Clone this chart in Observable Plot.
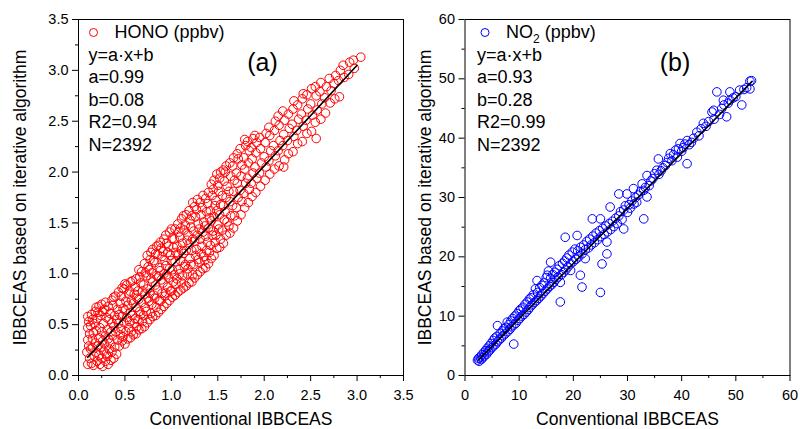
<!DOCTYPE html>
<html><head><meta charset="utf-8">
<script src="https://cdn.jsdelivr.net/npm/d3@7"></script>
<script src="https://cdn.jsdelivr.net/npm/@observablehq/plot@0.6"></script>
<style>
body{margin:0;background:#fff;}
#wrap{position:relative;width:800px;height:429px;overflow:hidden;font-family:"Liberation Sans",Arial,sans-serif;}
</style></head><body><div id="wrap"></div>
<script>
// ---------- data ----------
const honoPoints = [
 [0.10,0.11],[0.12,0.17],[0.09,0.23],[0.11,0.29],[0.10,0.35],[0.12,0.41],[0.10,0.47],[0.11,0.53],[0.10,0.58],
 [0.14,0.12],[0.13,0.26],[0.15,0.36],[0.13,0.49],[0.14,0.60],
 [0.16,0.10],[0.17,0.19],[0.15,0.27],[0.18,0.32],[0.16,0.42],[0.17,0.51],[0.15,0.55],[0.18,0.63],
 [0.20,0.14],[0.19,0.23],[0.21,0.29],[0.19,0.44],[0.20,0.56],[0.21,0.62],[0.19,0.67],
 [0.23,0.11],[0.22,0.20],[0.24,0.28],[0.22,0.37],[0.23,0.47],[0.24,0.59],[0.22,0.68],
 [0.26,0.09],[0.25,0.17],[0.27,0.24],[0.26,0.34],[0.25,0.43],[0.27,0.51],[0.26,0.63],[0.25,0.70],
 [0.29,0.14],[0.30,0.21],[0.28,0.31],[0.29,0.39],[0.30,0.57],[0.28,0.65],[0.29,0.72],
 [0.32,0.11],[0.31,0.19],[0.33,0.26],[0.32,0.36],[0.31,0.45],[0.33,0.55],[0.32,0.68],
 [0.35,0.15],[0.36,0.23],[0.34,0.32],[0.35,0.43],[0.36,0.52],[0.34,0.61],[0.36,0.74],
 [0.38,0.17],[0.39,0.28],[0.37,0.39],[0.38,0.48],[0.39,0.59],[0.37,0.69],[0.38,0.77],
 [0.41,0.21],[0.42,0.35],[0.40,0.43],[0.41,0.55],[0.42,0.65],[0.40,0.78],
 [0.44,0.29],[0.45,0.40],[0.43,0.51],[0.44,0.60],[0.45,0.71],[0.43,0.82],
 [0.47,0.34],[0.48,0.38],[0.46,0.46],[0.47,0.58],[0.48,0.66],[0.46,0.78],[0.47,0.86],
 [0.50,0.31],[0.51,0.43],[0.49,0.52],[0.50,0.64],[0.51,0.73],[0.49,0.85],[0.50,0.90],
 [0.53,0.36],[0.54,0.47],[0.52,0.57],[0.53,0.69],[0.54,0.80],[0.52,0.89],
 [0.56,0.37],[0.57,0.43],[0.55,0.53],[0.56,0.62],[0.57,0.74],[0.55,0.83],[0.56,0.92],
 [0.59,0.40],[0.60,0.51],[0.58,0.59],[0.59,0.71],[0.60,0.80],[0.58,0.93],
 [0.62,0.41],[0.63,0.48],[0.61,0.56],[0.62,0.67],[0.63,0.76],[0.61,0.87],[0.62,0.95],
 [0.65,0.45],[0.64,0.55],[0.66,0.63],[0.65,0.75],[0.64,0.83],[0.66,0.97],[0.65,1.04],
 [0.68,0.46],[0.69,0.53],[0.67,0.60],[0.68,0.72],[0.69,0.83],[0.67,0.91],[0.68,1.02],
 [0.71,0.48],[0.70,0.59],[0.72,0.67],[0.71,0.80],[0.70,0.89],[0.72,1.01],[0.71,1.10],
 [0.74,0.52],[0.73,0.63],[0.75,0.76],[0.74,0.85],[0.73,0.98],[0.75,1.07],[0.74,1.18],
 [0.77,0.55],[0.78,0.61],[0.76,0.73],[0.77,0.81],[0.78,0.95],[0.76,1.04],[0.77,1.14],[0.78,1.21],
 [0.80,0.58],[0.79,0.70],[0.81,0.79],[0.80,0.92],[0.79,1.01],[0.81,1.13],[0.80,1.24],
 [0.83,0.59],[0.84,0.67],[0.82,0.76],[0.83,0.89],[0.84,0.98],[0.82,1.11],[0.83,1.20],[0.84,1.27],
 [0.86,0.62],[0.87,0.74],[0.85,0.84],[0.86,0.97],[0.87,1.06],[0.85,1.19],[0.86,1.28],
 [0.89,0.65],[0.88,0.73],[0.90,0.81],[0.89,0.94],[0.88,1.03],[0.90,1.17],[0.89,1.25],[0.88,1.31],
 [0.92,0.68],[0.93,0.78],[0.91,0.91],[0.92,1.00],[0.93,1.13],[0.91,1.22],[0.92,1.34],
 [0.95,0.71],[0.94,0.81],[0.96,0.87],[0.95,0.99],[0.94,1.08],[0.96,1.21],[0.95,1.30],[0.94,1.38],
 [0.98,0.74],[0.99,0.83],[0.97,0.96],[0.98,1.05],[0.99,1.18],[0.97,1.27],[0.98,1.41],
 [1.01,0.77],[1.00,0.83],[1.02,0.92],[1.01,1.04],[1.00,1.13],[1.02,1.26],[1.01,1.35],[1.00,1.44],
 [1.04,0.79],[1.05,0.90],[1.03,0.99],[1.04,1.12],[1.05,1.21],[1.03,1.34],[1.04,1.44],
 [1.07,0.82],[1.06,0.95],[1.08,1.04],[1.07,1.18],[1.06,1.27],[1.08,1.41],[1.07,1.49],
 [1.10,0.84],[1.11,0.91],[1.09,1.00],[1.10,1.13],[1.11,1.23],[1.09,1.36],[1.10,1.45],[1.11,1.54],
 [1.13,0.86],[1.12,0.98],[1.14,1.07],[1.13,1.20],[1.12,1.30],[1.14,1.43],[1.13,1.57],
 [1.16,0.88],[1.17,1.00],[1.15,1.09],[1.16,1.23],[1.17,1.33],[1.15,1.48],[1.16,1.58],
 [1.19,0.91],[1.18,1.05],[1.20,1.15],[1.19,1.29],[1.18,1.38],[1.20,1.53],[1.19,1.62],
 [1.22,0.92],[1.23,0.99],[1.21,1.09],[1.22,1.23],[1.23,1.34],[1.21,1.46],[1.22,1.57],[1.23,1.70],
 [1.25,0.96],[1.24,1.09],[1.26,1.18],[1.25,1.32],[1.24,1.42],[1.26,1.56],[1.25,1.66],
 [1.28,0.99],[1.29,1.14],[1.27,1.24],[1.28,1.38],[1.29,1.49],[1.27,1.63],[1.28,1.73],
 [1.31,1.02],[1.30,1.11],[1.32,1.20],[1.31,1.34],[1.30,1.44],[1.32,1.58],[1.31,1.70],
 [1.34,1.05],[1.35,1.17],[1.33,1.27],[1.34,1.41],[1.35,1.51],[1.33,1.65],[1.34,1.77],
 [1.37,1.06],[1.36,1.13],[1.38,1.23],[1.37,1.37],[1.36,1.47],[1.38,1.61],[1.37,1.74],
 [1.40,1.10],[1.41,1.21],[1.39,1.31],[1.40,1.45],[1.41,1.55],[1.39,1.69],[1.40,1.80],
 [1.43,1.15],[1.42,1.28],[1.44,1.38],[1.43,1.52],[1.42,1.62],[1.44,1.77],[1.43,1.88],
 [1.46,1.18],[1.47,1.31],[1.45,1.42],[1.46,1.56],[1.47,1.67],[1.45,1.83],[1.46,1.92],
 [1.49,1.25],[1.48,1.38],[1.50,1.48],[1.49,1.62],[1.48,1.72],[1.50,1.87],[1.49,1.98],
 [1.52,1.26],[1.53,1.34],[1.51,1.44],[1.52,1.58],[1.53,1.68],[1.51,1.81],[1.52,1.94],[1.53,2.00],
 [1.56,1.30],[1.55,1.43],[1.57,1.53],[1.56,1.67],[1.55,1.77],[1.57,1.91],[1.56,2.02],
 [1.59,1.38],[1.60,1.51],[1.58,1.61],[1.59,1.75],[1.60,1.86],[1.58,2.00],[1.59,2.06],
 [1.63,1.40],[1.62,1.47],[1.64,1.57],[1.63,1.71],[1.62,1.81],[1.64,1.96],[1.63,2.09],
 [1.67,1.45],[1.68,1.57],[1.66,1.67],[1.67,1.81],[1.68,1.92],[1.66,2.06],[1.67,2.14],
 [1.71,1.52],[1.70,1.65],[1.72,1.75],[1.71,1.89],[1.70,1.99],[1.72,2.13],[1.71,2.18],
 [1.75,1.58],[1.76,1.71],[1.74,1.82],[1.75,1.96],[1.76,2.07],[1.74,2.23],
 [1.79,1.65],[1.78,1.79],[1.80,1.89],[1.79,2.03],[1.78,2.14],[1.80,2.26],[1.79,2.32],
 [1.83,1.70],[1.84,1.83],[1.82,1.94],[1.83,2.09],[1.84,2.21],[1.82,2.30],
 [1.87,1.76],[1.86,1.89],[1.88,1.99],[1.87,2.13],[1.86,2.24],[1.88,2.33],
 [1.91,1.80],[1.92,1.94],[1.90,2.05],[1.91,2.19],[1.92,2.29],[1.90,2.36],
 [1.96,1.86],[1.95,1.99],[1.97,2.09],[1.96,2.23],[1.95,2.34],
 [2.01,1.92],[2.02,2.05],[2.00,2.15],[2.01,2.29],[2.02,2.38],
 [2.06,1.98],[2.05,2.11],[2.07,2.21],[2.06,2.36],[2.05,2.44],
 [2.11,2.03],[2.12,2.16],[2.10,2.26],[2.11,2.41],[2.12,2.50],
 [2.16,2.06],[2.15,2.21],[2.17,2.31],[2.16,2.46],[2.15,2.55],
 [2.21,2.05],[2.22,2.12],[2.20,2.26],[2.21,2.37],[2.22,2.51],[2.20,2.60],
 [2.26,2.18],[2.25,2.31],[2.27,2.43],[2.26,2.57],
 [2.31,2.20],[2.32,2.35],[2.30,2.47],[2.31,2.62],[2.32,2.70],
 [2.36,2.28],[2.35,2.41],[2.37,2.52],[2.36,2.66],
 [2.41,2.30],[2.42,2.45],[2.40,2.57],[2.41,2.72],[2.42,2.77],
 [2.46,2.38],[2.45,2.51],[2.47,2.62],[2.46,2.76],
 [2.51,2.40],[2.52,2.56],[2.50,2.67],[2.51,2.82],
 [2.56,2.33],[2.55,2.49],[2.57,2.61],[2.56,2.75],[2.55,2.84],
 [2.61,2.52],[2.62,2.67],[2.60,2.79],[2.61,2.88],
 [2.66,2.58],[2.65,2.73],[2.67,2.84],
 [2.71,2.68],[2.72,2.80],[2.70,2.92],
 [2.76,2.72],[2.75,2.87],[2.77,2.95],
 [2.81,2.74],[2.80,2.90],[2.82,3.00],
 [2.86,2.93],[2.85,3.05],
 [2.91,2.96],[2.92,3.08],
 [2.97,3.02],[2.96,3.10],
 [3.04,3.13]
];

const no2Points = [
 [2.3,2.6],[2.5,2.9],[2.6,2.4],[2.8,3.1],[3.0,2.7],[3.1,3.5],[3.3,3.0],[3.5,3.9],[3.6,3.3],[3.8,4.2],
 [4.0,3.6],[4.1,4.6],[4.3,4.0],[4.5,5.0],[4.6,4.3],[4.8,5.4],[5.0,4.7],[5.2,5.9],[5.3,5.0],[5.5,6.3],
 [5.7,5.3],[5.9,6.6],[6.0,5.7],[6.0,8.4],[6.3,6.0],[6.5,7.1],[6.7,6.3],[6.9,7.5],[7.0,6.7],[7.2,7.9],
 [7.4,7.0],[7.6,8.1],[7.8,9.0],[7.9,7.4],[8.1,8.6],[8.3,7.8],[8.5,9.2],[8.6,8.2],[8.8,9.6],[9.0,5.3],
 [9.0,8.5],[9.2,10.0],[9.4,8.8],[9.6,10.4],[9.8,9.3],[10.0,10.9],[10.1,9.6],[10.3,11.2],[10.5,10.0],[10.7,11.5],
 [10.9,10.3],[11.1,12.0],[11.3,10.7],[11.5,12.4],[11.7,11.1],[11.9,12.9],[12.0,11.5],[12.2,13.1],[12.4,11.9],[12.6,13.6],
 [12.8,12.3],[13.0,14.6],[13.3,16.0],[13.2,12.6],[13.4,14.0],[13.6,13.0],[13.8,14.8],[14.0,13.4],[14.2,15.2],[14.4,13.8],
 [14.6,15.6],[14.8,14.2],[15.0,16.5],[15.2,14.6],[15.2,16.9],[15.4,17.6],[15.6,15.0],[15.8,19.1],[15.8,16.4],[16.0,15.3],
 [16.2,17.0],[16.4,15.7],[16.6,17.4],[16.8,16.2],[17.0,17.9],[17.2,16.6],[17.4,18.5],[17.6,12.4],[17.6,15.7],[17.8,17.0],
 [18.0,18.9],[18.2,17.4],[18.4,19.3],[18.5,23.3],[18.6,17.8],[18.8,19.8],[19.0,18.3],[19.2,20.3],[19.5,17.7],[19.5,18.8],
 [19.8,20.8],[20.0,19.2],[20.3,21.3],[20.5,19.6],[20.7,23.6],[20.8,21.0],[21.0,20.0],[21.3,16.9],[21.3,21.6],[21.6,14.9],
 [21.6,20.5],[21.9,22.0],[22.2,19.7],[22.2,21.2],[22.5,22.6],[22.8,21.5],[23.0,23.0],[23.3,22.0],[23.5,26.4],[23.6,23.5],
 [23.9,22.4],[24.2,24.0],[24.5,22.9],[24.8,24.4],[25.0,14.0],[25.0,26.4],[25.1,23.4],[25.3,18.8],[25.4,24.8],[25.7,23.8],
 [26.0,25.2],[26.2,20.5],[26.2,22.5],[26.3,24.2],[26.6,25.6],[26.8,28.4],[26.9,24.6],[27.2,26.0],[27.5,25.1],[27.8,26.5],
 [28.1,25.6],[28.4,30.6],[28.4,26.9],[28.7,27.6],[29.0,26.3],[29.3,24.7],[29.3,27.9],[29.6,28.6],[29.9,30.6],[30.0,27.5],
 [30.3,28.8],[30.5,28.2],[30.8,29.4],[31.1,31.5],[31.2,28.9],[31.5,30.0],[31.7,29.2],[32.0,30.4],[32.4,31.0],[32.7,32.3],
 [33.0,26.4],[33.0,31.2],[33.3,31.7],[33.6,30.1],[33.6,33.7],[34.0,32.0],[34.3,32.8],[34.7,33.2],[35.0,34.0],[35.4,34.6],
 [35.7,36.5],[35.8,33.9],[36.2,34.5],[36.5,35.0],[37.0,35.4],[37.3,35.9],[37.6,36.6],[37.9,37.4],[38.2,36.2],[38.5,37.2],
 [38.9,38.0],[39.2,36.8],[39.4,38.2],[39.7,39.1],[40.0,37.8],[40.3,38.4],[40.6,39.0],[41.0,35.7],[41.0,39.6],[41.4,38.9],
 [41.8,39.3],[42.2,40.0],[42.8,41.0],[43.2,40.4],[43.6,41.6],[44.0,42.5],[44.5,42.0],[45.0,42.8],[45.6,44.4],[45.9,44.7],
 [46.0,43.2],[46.5,47.8],[47.0,44.0],[47.4,45.0],[47.7,46.4],[47.8,45.6],[48.3,43.6],[48.6,45.9],[48.9,46.4],[48.9,47.8],
 [49.5,46.8],[50.0,47.0],[50.7,48.1],[51.1,45.6],[51.5,48.2],[52.0,48.5],[52.6,48.3],[52.6,49.6],[52.9,49.7]
];

const honoFit = {a: 0.99, b: 0.08, x0: 0.10, x1: 3.00};
const no2Fit = {a: 0.93, b: 0.28, x0: 2.5, x1: 53.0};

const honoStats = ["y=a·x+b", "a=0.99", "b=0.08", "R2=0.94", "N=2392"];
const no2Stats = ["y=a·x+b", "a=0.93", "b=0.28", "R2=0.99", "N=2392"];

const honoTicks = [0, 0.5, 1.0, 1.5, 2.0, 2.5, 3.0, 3.5];
const honoMinor = [0.25, 0.75, 1.25, 1.75, 2.25, 2.75, 3.25];
const no2Ticks = [0, 10, 20, 30, 40, 50, 60];
const no2Minor = [5, 15, 25, 35, 45, 55];

const xTitle = "Conventional IBBCEAS";
const yTitle = "IBBCEAS based on iterative algorithm";

// ---------- drawing ----------
const FONT = "'Liberation Sans', Arial, Helvetica, sans-serif";

function panel(o) {
  const data = o.points.map(([x, y]) => ({x, y}));
  const fitLine = [o.fit.x0, o.fit.x1].map(x => ({x, y: o.fit.a * x + o.fit.b}));
  const marks = [
    Plot.axisX({ticks: o.minor, tickSize: 3, tickFormat: () => "", label: null, strokeWidth: 1}),
    Plot.axisY({ticks: o.minor, tickSize: 3, tickFormat: () => "", label: null, strokeWidth: 1}),
    Plot.axisX({ticks: o.ticks, tickSize: 6, tickPadding: 8, tickFormat: o.fmt, label: null, strokeWidth: 1}),
    Plot.axisY({ticks: o.ticks, tickSize: 6, tickPadding: 4, tickFormat: o.fmt, label: null, strokeWidth: 1}),
    Plot.dot(data, {x: "x", y: "y", r: 4.3, stroke: o.color, strokeWidth: 1, fill: "none"}),
    Plot.line(fitLine, {x: "x", y: "y", stroke: "black", strokeWidth: 1.6}),
    Plot.frame({stroke: "black", strokeWidth: 1}),
    Plot.dot([0], {frameAnchor: "top-left", dx: o.legDotDx, dy: 13, r: 4, stroke: o.color, strokeWidth: 1, fill: "none"}),
    Plot.text([o.legend], {text: d => d, frameAnchor: "top-left", dx: o.legTextDx, dy: 13, textAnchor: "start", lineAnchor: "middle", fontSize: 18}),
    ...o.stats.map((s, i) => Plot.text([s], {text: d => d, frameAnchor: "top-left", dx: o.statDx, dy: 35.5 + i * 22.5, textAnchor: "start", lineAnchor: "middle", fontSize: 18})),
    Plot.text([o.tag], {text: d => d, frameAnchor: "top-left", dx: o.tagDx, dy: 43, textAnchor: "middle", lineAnchor: "middle", fontSize: 25}),
    Plot.text([xTitle], {text: d => d, frameAnchor: "bottom", dy: 44, textAnchor: "middle", lineAnchor: "middle", fontSize: 17.5}),
    Plot.text([yTitle], {text: d => d, frameAnchor: "left", dx: o.yTitleDx, rotate: -90, textAnchor: "middle", lineAnchor: "middle", fontSize: 17.5})
  ];
  return Plot.plot({
    width: o.width, height: 429,
    marginLeft: o.marginLeft, marginRight: o.marginRight, marginTop: 19, marginBottom: 54,
    x: {domain: o.domain, nice: false},
    y: {domain: o.domain, nice: false},
    style: {fontFamily: FONT, fontSize: "14.5px", color: "black", background: "transparent",
            overflow: "visible", position: "absolute", left: o.left + "px", top: "0px"},
    marks
  });
}

const wrap = document.getElementById("wrap");

const left = panel({
  points: honoPoints, color: "#ff0000", fit: honoFit, stats: honoStats,
  ticks: honoTicks, minor: honoMinor, fmt: d3.format(".1f"), domain: [0, 3.5],
  legend: "HONO (ppbv)", tag: "(a)",
  left: 0, width: 410, marginLeft: 78, marginRight: 7,
  legDotDx: 15, legTextDx: 36, statDx: 10, tagDx: 184, yTitleDx: -58
});
const right = panel({
  points: no2Points, color: "#0000ff", fit: no2Fit, stats: no2Stats,
  ticks: no2Ticks, minor: no2Minor, fmt: d3.format("d"), domain: [0, 60],
  legend: "NO2 (ppbv)", tag: "(b)",
  left: 400, width: 400, marginLeft: 64.5, marginRight: 10.5,
  legDotDx: 20, legTextDx: 41, statDx: 12, tagDx: 210, yTitleDx: -39.5
});
wrap.appendChild(left);
wrap.appendChild(right);

// subscript for NO2 legend
d3.select(right).selectAll("text").filter(function() { return this.textContent === "NO2 (ppbv)"; })
  .each(function() {
    const t = d3.select(this);
    t.text("");
    t.append("tspan").text("NO");
    t.append("tspan").attr("font-size", 12).attr("dy", 5).text("2");
    t.append("tspan").attr("dy", -5).text(" (ppbv)");
  });
</script>
</body></html>
